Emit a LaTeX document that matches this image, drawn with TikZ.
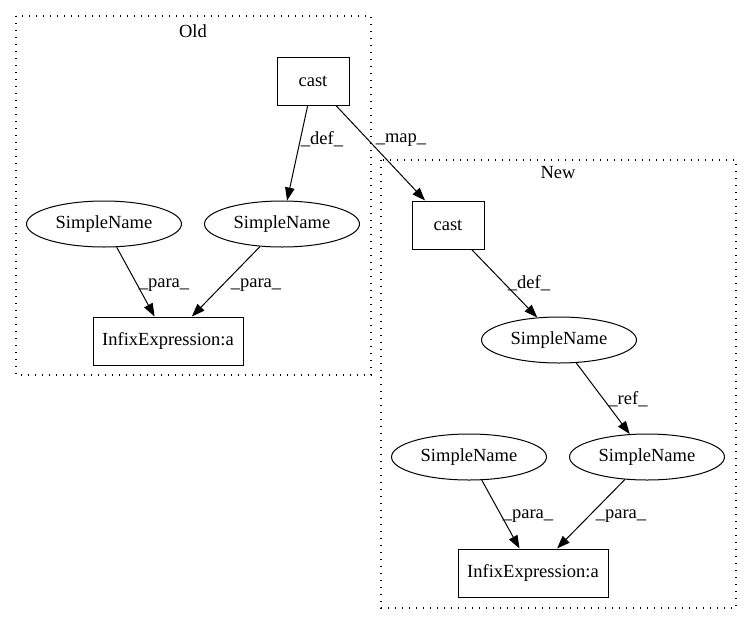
\documentclass[tikz,border=0pt]{standalone}
\usepackage{fontspec}
\setmainfont{Liberation Serif}
\usetikzlibrary{arrows.meta,shapes.geometric}
\begin{document}
\begin{tikzpicture}[x=1pt,y=-1pt,
  txt/.style={font=\fontsize{18.5}{22}\selectfont},
  box/.style={txt,draw,rectangle,minimum height=48pt,inner sep=3pt,line width=1pt},
  ell/.style={txt,draw,ellipse,minimum width=155pt,minimum height=46pt,inner sep=1pt,line width=1pt},
  lab/.style={txt,inner sep=1pt},
  clus/.style={draw,line width=1.3pt,dash pattern=on 1.4pt off 5.6pt},
  edge/.style={-{Triangle[length=13pt,width=9.5pt]},line width=1pt}]
\useasboundingbox (0,0) rectangle (752,624);
\draw[clus] (16,16) rectangle (371,375);
\node[lab] (oldlab) at (193,31) {Old};
\draw[clus] (381,160) rectangle (736,608);
\node[lab] (newlab) at (558,173) {New};

\node[box,minimum width=72pt] (co) at (313,81) {cast};
\node[ell] (sl) at (104,224) {SimpleName};
\node[ell] (sr) at (282,224) {SimpleName};
\node[box,minimum width=150pt] (io) at (168,341) {InfixExpression:a};

\node[box,minimum width=72pt] (cn) at (448,225) {cast};
\node[ell] (s1) at (559,340) {SimpleName};
\node[ell] (snl) at (469,457) {SimpleName};
\node[ell] (snr) at (647,457) {SimpleName};
\node[box,minimum width=150pt] (in) at (533,573) {InfixExpression:a};

\draw[edge] (co) -- (sr);
\node[lab] (l1) at (322,139) {\_def\_};
\draw[edge] (co) -- (cn);
\node[lab] (l2) at (401,140) {\_map\_};
\draw[edge] (sl) -- (io);
\node[lab] (l3) at (164,285) {\_para\_};
\draw[edge] (sr) -- (io);
\node[lab] (l4) at (256,285) {\_para\_};
\draw[edge] (cn) -- (s1);
\node[lab] (l5) at (529,283) {\_def\_};
\draw[edge] (s1) -- (snr);
\node[lab] (l6) at (628,399) {\_ref\_};
\draw[edge] (snl) -- (in);
\node[lab] (l7) at (528,516) {\_para\_};
\draw[edge] (snr) -- (in);
\node[lab] (l8) at (621,516) {\_para\_};
\end{tikzpicture}
\end{document}
